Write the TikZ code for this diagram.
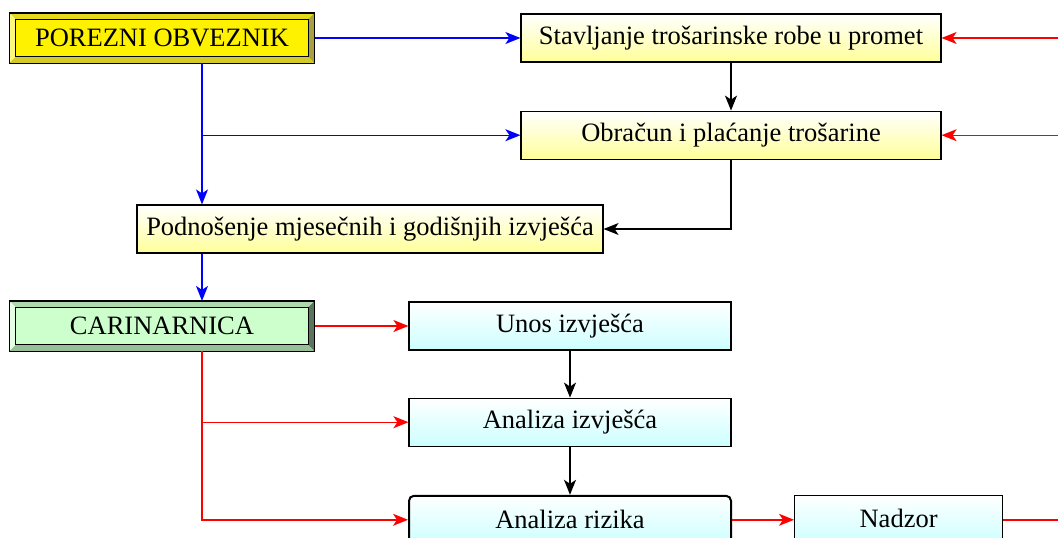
\documentclass[tikz,border=0pt]{standalone}
\usepackage{fontspec}
\setmainfont{Liberation Serif}
\usetikzlibrary{arrows.meta, positioning, calc}
\definecolor{paleyellow}{RGB}{255,255,153}
\definecolor{palecyan}{RGB}{204,255,255}
\definecolor{palegreen}{RGB}{204,255,204}
\tikzset{box/.style={rectangle,draw,line width=1.2pt,align=center,inner sep=0pt,minimum height=48pt,font=\fontsize{26.5}{30}\selectfont},
ybox/.style={box,top color=white,bottom color=paleyellow,minimum width=420pt},
cbox/.style={box,top color=white,bottom color=palecyan,minimum width=322pt},
bevelbox/.style={box,minimum width=304pt,minimum height=49pt},
line/.style={line width=1.4pt,-{Stealth[length=15pt,width=12pt,inset=4pt]}},
plain/.style={line width=1.4pt}}
\newcommand\bevelit[5]{%
\fill[#2] (#1.north west) -- (#1.north east) -- ([shift={(-6.5,6.5)}]#1.north east) -- ([shift={(6.5,6.5)}]#1.north west) -- cycle;
\fill[#3] (#1.north west) -- (#1.south west) -- ([shift={(6.5,-6.5)}]#1.south west) -- ([shift={(6.5,6.5)}]#1.north west) -- cycle;
\fill[#4] (#1.north east) -- (#1.south east) -- ([shift={(-6.5,-6.5)}]#1.south east) -- ([shift={(-6.5,6.5)}]#1.north east) -- cycle;
\fill[#5] (#1.south west) -- (#1.south east) -- ([shift={(-6.5,-6.5)}]#1.south east) -- ([shift={(6.5,-6.5)}]#1.south west) -- cycle;
\draw[line width=1.1pt] ([shift={(6.5,6.5)}]#1.north west) rectangle ([shift={(-6.5,-6.5)}]#1.south east);
\draw[line width=1.2pt] (#1.north west) rectangle (#1.south east);}

\begin{document}
\begin{tikzpicture}[x=1pt,y=-1pt,node distance=48pt and 62pt]
\useasboundingbox (0,0) rectangle (1058,538);
\clip (0,0) rectangle (1058,538);
\node[bevelbox, fill=yellow] (po) at (162,38) {POREZNI OBVEZNIK};
\bevelit{po}{yellow!88!black}{yellow!50!white}{yellow!60!black}{yellow!80!black}
\node[ybox] (stav) at (731,38) {Stavljanje trošarinske robe u promet};
\node[ybox, below=of stav] (obr) {Obračun i plaćanje trošarine};
\node[ybox, minimum width=466pt] (pod) at (370,229) {Podnošenje mjesečnih i godišnjih izvješća};
\node[bevelbox, fill=palegreen] (car) at (162,326) {CARINARNICA};
\bevelit{car}{palegreen!85!black}{palegreen!50!white}{palegreen!45!black}{palegreen!75!black}
\node[cbox] (unos) at (570,326) {Unos izvješća};
\node[cbox, below=47pt of unos] (anal) {Analiza izvješća};
\node[cbox, below=of anal, line width=2pt, rounded corners=5pt] (riz) {Analiza rizika};
\node[cbox, right=of riz, minimum width=208pt] (nad) {\raisebox{3pt}{Nadzor}};
\coordinate (bx) at ([xshift=40pt]po.south);
\coordinate (in1) at (stav.east -| 1058,0);
\coordinate (in2) at (obr.east -| 1058,0);
\coordinate (out1) at (nad.east -| 1058,0);
\draw[line, blue] (po.east) -- (stav.west);
\draw[line, blue] (bx) -- (bx |- pod.north);
\draw[line, blue] (bx |- obr.west) -- (obr.west);
\draw[line, red] (in1) -- (stav.east);
\draw[line, red] (in2) -- (obr.east);
\draw[line] (stav.south) -- (obr.north);
\draw[line] (obr.south) |- (pod.east);
\draw[line, blue] (bx |- pod.south) -- (bx |- car.north);
\draw[line, red] (car.east) -- (unos.west);
\draw[line, red] (bx |- car.south) |- (riz.west);
\draw[line, red] (bx |- anal.west) -- (anal.west);
\draw[line] (unos.south) -- (anal.north);
\draw[line] (anal.south) -- (riz.north);
\draw[line, red] (riz.east) -- (nad.west);
\draw[plain, red] (nad.east) -- (out1);
\end{tikzpicture}
\end{document}
